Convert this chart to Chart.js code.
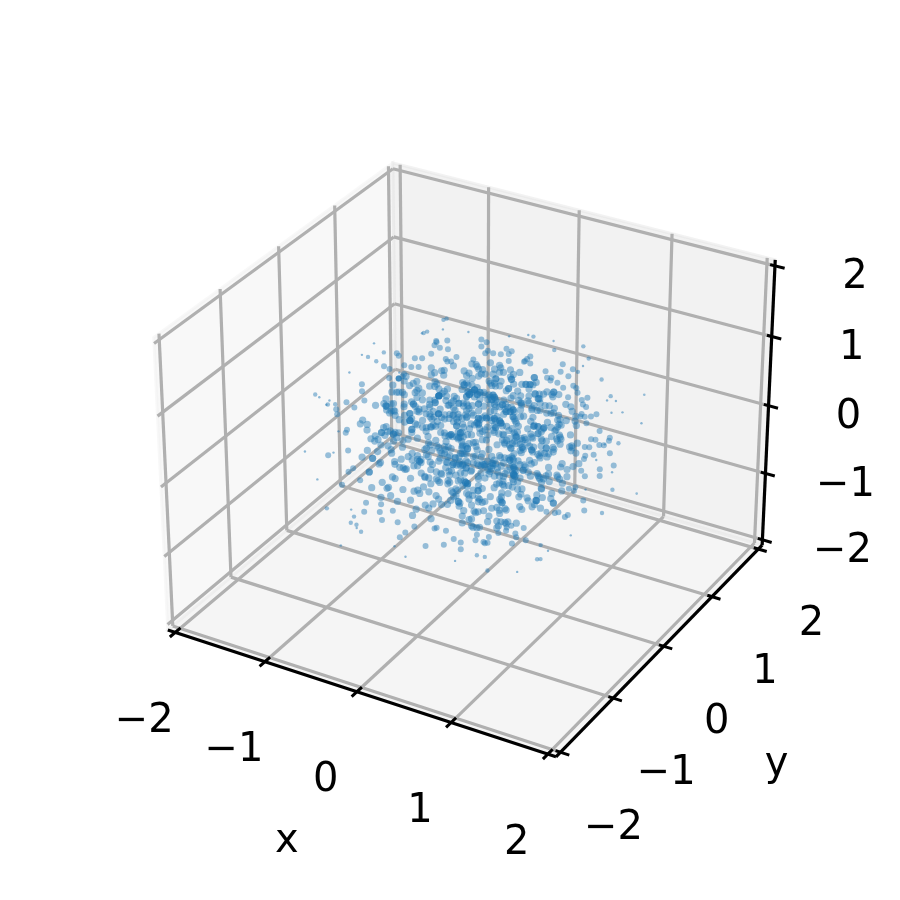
<!DOCTYPE html>
<html><head><meta charset="utf-8">
<script src="https://cdn.jsdelivr.net/npm/chart.js@4"></script>
<style>html,body{margin:0;padding:0;background:#fff}canvas{display:block}</style>
</head><body><canvas id="c" width="900" height="900"></canvas>
<script>
const tickValues=[-2,-1,0,1,2];
const tickLabels=["\u22122","\u22121","0","1","2"];
const scatterX=[
.3,-.5,.1,.8,-.2,-.9,.4,0,-.6,.2,1.1,-.3,.6,-.1,-.7,.5,.2,-1,.3,-.4,.9,0,-.2,.7,-.5,.1,-.8,.4,-.1,.6,-1.2,.2,-.3,.5,.1,-.6,.8,-.2,.3,-.9,
-.1,.4,-.7,.2,.6,-.3,1,-.5,.1,0,.7,-.8,.3,-.2,.5,-.4,.1,1.2,-.6,.2,-.1,.9,-.3,.4,-1.1,.6,0,-.5,.2,.3,-.7,.8,-.1,.5,-.2,-.9,.1,.4,-.4,.7,
.2,-.6,0,.5,-1,.3,.9,-.2,-.4,.1,.6,-.8,.2,-.1,1.3,-.5,.4,-.3,.7,0,-.6,.1,.8,-.2,.3,-.9,.5,-.1,.2,-.7,1,-.4,.6,.1,-.3,.4,-1.3,.2,-.5,.9,
-.2,.3,.7,-.6,.1,-.1,.5,-.8,.4,0,-.3,1.1,-.7,.2,.6,-.4,.3,-.1,.8,-1,.1,-.2,.5,-.5,.9,.2,-.6,.4,0,-.3,.7,-.9,.1,.3,-.1,.6,-.4,1.2,-.2,-.7,
.5,.1,-.8,.2,.4,-.3,0,.9,-.5,.7,-.1,.3,-1.1,.6,-.2,.1,.8,-.6,.4,-.4,.2,-.1,1,-.9,.5,.3,-.7,.1,-.3,.6,0,-.5,.8,-.2,.4,-1.2,.2,.7,-.1,-.4,
.1,.9,-.6,.3,-.2,.5,-.8,.2,-.1,1.1,-.5,.4,.6,-.3,0,-.9,.7,.1,-.4,.3,-.7,1,.2,-.2,.5,-.6,-.1,.8,-1,.4,.3,-.3,.1,.6,-.5,.2,-.8,.9,0,-.2,
.4,-.1,-.7,.6,.2,-.4,1.3,-.3,.1,-.6,.5,.8,-.9,0,.3,-.2,.7,-.5,.1,-1.1,.4,.2,-.1,.6,-.8,.3,-.3,.9,-.4,.1,.5,-.7,0,1,-.2,.2,-.6,.4,-.1,.7,
-.5,.3,.1,-.9,.8,-.2,.4,-.3,.6,.2,-1.3,.5,-.1,.1,-.7,.3,.9,-.4,0,-.6,1.2,-.2,.2,.7,-.5,.4,-.8,.1,-.1,.6,-.3,.3,-1,.8,.5,-.2,.1,-.6,.4,-.4,
.7,0,-.9,.2,-.1,.5,-.5,1.1,.3,-.7,.1,.6,-.3,-.2,.9,-.8,.4,.2,-1.2,.5,-.1,.3,-.4,.7,-.6,.1,1,0,-.2,.4,-.9,.6,-.3,.2,-.5,.8,.1,-.1,-.7,.3,
-.4,.5,.2,-.8,.9,-.1,.3,-.6,.1,.7,-.2,-1,.4,.6,-.5,0,.2,1.3,-.3,-.7,.5,.1,-.9,.3,-.2,.8,-.4,.6,-.1,.2,-1.1,.4,.7,-.6,.1,-.3,1,-.5,.2,.3,
.6,-.2,-.8,.1,.4,-.5,.9,-.1,-.3,.2,-.7,.5,1.2,-.4,0,.3,-.9,.7,-.2,.1,.6,-.6,.4,-1,.2,-.1,.8,-.3,.5,-.5,.1,.3,-.7,1.1,-.2,.4,-.4,.9,-.8,.6,
.2,-.3,.1,-1.3,.5,.7,-.1,-.6,.3,.4,-.9,.2,-.2,.8,-.4,.1,1,-.7,.6,-.5,0,.3,-.1,.5,-.8,.9,.2,-.3,-1.1,.4,.1,.7,-.6,-.2,.6,.3,-.5,.1,1.2,-.4,
-.1,.8,-.7,.2,.5,-.3,.4,-.9,.1,.6,-.2,1.1,-.5,.3,-.6,.7,0,-1,.2,-.4,.9,-.1,.5,-.8,.1,.4,-.3,.6,-.7,.2,1.3,-.2,.3,-.5,.8,-.1,-.9,.4,.1,-.6,
.5,.2,-.4,.7,-1.2,.1,.3,-.2,.9,-.7,.6,-.1,.4,-.5,.2,1,-.3,-.8,.5,.1,-.6,.3,.7,-.2,-1,.8,.2,-.4,.1,.6,-.9,.3,-.1,.5,-.5,1.1,-.3,.4,-.7,.2,
-.2,.6,.1,-.5,.3,.9,-.8,.4,-.1,-.3,.7,.2,-1.1,.5,-.6,.1,1.2,-.4,.3,-.2,.8,-.7,.6,0,-.9,.4,.2,-.5,.1,.7,-.3,1,-.1,.5,-.8,.3,.6,-.4,-.2,.2,
.4,-.7,.9,.1,-.3,.5,-1.3,.2,-.1,.6,-.5,.8,.3,-.9,.1,.7,-.2,.4,-.6,1.1,.2,-.4,0,.5,-.8,.3,-.1,.9,-.5,.1,.6,-1,.4,-.3,.7,.2,-.7,.1,.8,-.2,
-.6,.3,.5,-.1,-.9,.7,.2,-.4,1,.1,-.3,.6,-.7,.4,-.2,.8,-1.2,.3,.1,-.5,.9,-.1,.2,-.6,.5,.4,-.8,.7,-.3,.1,1.1,-.4,.2,-.2,.6,-.9,.3,.5,-.5,.1,
.7,-.1,-.3,.4,-1,.2,.8,-.6,.3,.1,-.4,.9,-.2,.5,-.7,1.2,.6,-.5,.1,-.9,.3,.2,-.1,.4,-.8,.7,-.3,.5,-1.1,.1,.6,-.2,.8,-.4,.3,-.6,1,.2,-.1,-.7,
.4,.1,-.5,.8,-.2,.3,-.9,.6,.2,-.4,1.3,-.7,.1,-.1,.5,-.3,.9,-.6,.4,.2,-1,.7,-.2,.3,.1,-.8,.6,-.5,1.1,-.1,.4,-.3,.2,-.7,.5,.9,-.4,.1,-1.2,.3,
-.3,.7,.1,-.6,.4,.2,-.9,1,-.1,.5,-.5,.3,.8,-.8,.2,-.2,.6,-.4,1.2,.1,-.7,.4,-.1,.3,.9,-.3,-1.1,.5,.2,-.6,.7,.1,-.4,.8,-.2,.3,-.5,.6,-.9,.4,
.2,-.1,.9,-.7,.3,.5,-.3,-1,.6,.1,-.5,.8,-.2,.4,-.8,1.1,.2,-.6,.3,.7,-.4,.1,-.9,.5,-.1,1.3,-.3,.2,-.7,.6,.4,-.5,.1,.8,-1.2,.3,-.2,.5,.9,-.6,
-.4,.6,-.1,.3,-.8,.2,1,-.5,.7,.1,-.3,-.9,.4,.5,-.2,.8,-.6,.1,1.2,-.7,.3,-.1,.6,-.4,.2,-1.1,.9,-.5,.4,.1,-.3,.7,-.8,.2,.5,-.2,1,-.6,.3,-.1,
.8,-.4,.2,.5,-1,.1,-.6,.9,-.2,.3,.7,-.7,.4,-.3,.1,1.1,-.9,.6,-.1,.2,-.5,.4,.8,-.8,.3,-.2,.1,-1.3,.7,.5,-.4,.2,.6,-.6,1,-.1,.3,-.3,.9,-.7,
.1,.5,-.9,.4,-.2,.7,-.5,.2,1.2,-.6,.3,-.1,.8,-.4,.6,-1.1,.1,.9,-.3,.2,-.7,.5,.4,-.8,-.1,1,-.2,.6,.3,-.5,.1,-.9,.7,.2,-.4,.8,-.6,.5,-.3,.4,
-.7,.2,.6,-.1,.9,-.5,.3,.1,-1,.8,-.3,.4,-.6,1.1,.2,-.2,.5,-.8,.7,.1,-.4,.3,-1.2,.6,-.1,.9,-.7,.2,.4,-.5,1,.3,-.9,.1,-.2,.7,-.3,.5,.8,-.6];
const scatterY=[
-.2,.6,.1,-.7,.4,.3,-.9,.5,-.1,.8,-.4,.2,-1,.3,.6,-.3,.1,.7,-.5,.9,.2,-.6,.4,-.1,1.1,-.8,.3,0,-.4,.5,.7,-.2,.1,-.9,.6,.4,-.3,1,-.6,.2,
.5,-.1,.8,-.5,.3,-.7,.2,.9,-.4,.6,.1,-.2,-1.1,.4,.7,-.3,.5,-.8,.2,.1,-.6,.3,.9,-.1,.4,-.5,1.2,.6,-.9,.2,-.3,.7,.1,-.7,.5,.3,-.4,.8,-1,.1,
.6,-.2,.4,-.6,.9,.2,-.8,.5,.3,-.1,1,-.4,.7,.1,-.5,.2,-.9,.6,-.3,.8,.4,-1.2,.1,.5,-.7,.3,-.2,.9,-.5,.6,.1,-.4,.2,-.8,.7,.4,-.1,.3,1.1,-.6,
.5,-.3,.2,.8,-.9,.6,-.2,.1,-.5,.4,1,-.7,.3,.1,-.4,.9,-.1,.7,-.6,.2,.5,-1,.3,-.3,.6,.4,-.8,.1,-.2,.7,.2,.5,-.5,-.9,1.2,-.1,.4,-.4,.3,.8,
-.6,.1,.3,-.7,.9,.5,-.2,-.3,.6,.2,-.8,.4,.1,-1.1,.7,-.5,.3,-.1,.5,.8,-.4,1,.2,-.6,-.2,.6,.1,-.9,.4,.3,-.7,.5,.2,-.3,.9,.1,-.5,.7,-1.2,.4,
.3,-.8,.6,.1,-.4,.2,.7,-.6,1.1,-.1,.4,.5,-.9,.2,.3,-.2,-.5,.8,.1,-.7,.6,.4,-.3,.9,-1,.2,.5,-.1,-.6,.7,.1,.3,-.4,.8,-.8,.2,-.2,.4,.6,-.5,
1,-.3,.2,-.7,.5,.1,.4,-1.1,.7,-.1,.3,-.6,.9,.2,-.4,.6,-.9,.1,.5,-.2,.8,-.5,.3,.1,-.8,.4,1.2,-.3,.7,-.6,.2,-.1,.5,.3,-1,.6,.9,-.4,.1,-.7,
.2,.5,-.3,.8,-.1,.4,-.6,.1,-.9,.7,.3,-.5,.2,1,-.2,.6,-.8,.4,-.4,.1,.5,.9,-.7,.3,-1.1,.2,-.1,.6,-.3,.4,.8,-.5,.1,-.6,.7,.3,-.2,-1,.5,.2,
-.4,.9,.1,-.8,.6,.3,-.1,.2,.7,-.5,-.3,1.1,.4,-.9,.1,.5,-.6,.2,.8,-.2,.3,-.7,.6,.1,-1.2,.4,-.4,.9,.2,-.1,.5,-.5,.7,.3,-.8,.1,1,-.3,.6,-.6,
.1,-.1,.4,.7,-.9,.2,.5,-.4,.3,-.7,.8,.1,-.2,.6,-1,.4,.2,-.5,.9,-.3,.1,.7,-.6,.3,.5,-.8,.2,1.2,-.1,-.4,.6,.1,-.9,.4,-.2,.3,-.5,.8,.2,-.7,
.6,.3,-.3,.1,-1.1,.5,.9,-.6,.2,-.1,.7,.4,-.8,.1,-.4,1,-.2,.3,-.7,.6,.2,-.5,.5,-.9,.1,.8,-.3,.4,.2,-.6,.7,-.1,-1.2,.3,.5,.1,-.4,.9,-.2,.6,
-.5,.2,.8,-.1,.4,-.7,.3,.6,-.3,.1,-.9,.5,1.1,-.6,.2,.4,-.2,.7,-.8,.1,.3,-.4,.9,-.1,-1,.6,.2,-.5,.5,.3,-.7,.8,.1,-.3,.4,-.6,1,.2,-.9,.7,
.3,-.4,.1,.6,-.8,.5,-.2,.2,.9,-.1,.4,-.7,.3,-.5,1.2,.1,-.3,.7,-.9,.2,.6,-.6,.4,.1,-.2,.8,-1.1,.5,.3,-.4,.2,-.1,.7,-.8,.6,.1,.4,-.5,.3,.9,
-.6,.1,.5,-.2,1,.3,-.7,.4,-.4,.2,.8,-.1,-.9,.6,.1,-.5,.3,.7,-.3,.2,-1.2,.5,.9,-.6,.1,.4,-.2,.3,-.8,.6,1.1,-.4,.2,-.1,.7,.5,-.7,.1,-.3,.4,
.2,-.9,.6,.3,-.5,.1,.8,-.2,.4,-1,.7,.1,-.6,.5,-.1,.3,-.8,.9,.2,-.4,.6,.1,-.3,1.2,-.7,.4,.2,-.5,.3,-.1,.8,-.9,.5,.1,-.2,.6,.3,-1.1,.7,-.4,
.5,.1,-.7,.2,.9,-.3,.4,-.6,.1,.7,-.1,-.8,.3,.5,-.4,1,.2,-.2,.6,-.9,.4,.1,-.5,.8,.3,-.7,.6,-.1,.2,-1.2,.9,-.3,.4,.1,-.6,.5,.2,-.4,.7,-.8,
-.1,.3,.8,-.5,.2,-.9,.6,.1,-.2,.4,1.1,-.7,.3,-.3,.5,.2,-.6,.9,-.1,.7,-1,.1,.4,-.4,.3,.6,-.8,.2,.5,-.5,.1,1,-.2,.7,-.9,.3,-.6,.4,.1,.8,
-.3,.6,.2,-.1,.5,-.7,.9,.3,-.4,.1,-1.1,.8,-.5,.4,.2,-.2,.7,-.6,.1,.3,-.9,.5,1.2,-.3,.6,.2,-.8,.4,-.1,.7,.1,-.5,.3,-.7,.9,.2,-.4,.6,-1,.5,
.1,-.2,.4,.8,-.6,.3,.2,-.9,.7,-.1,.5,-.4,1,.1,-.7,.3,-.3,.6,.4,-1.2,.2,.9,-.5,.1,-.1,.7,-.8,.5,.2,.3,-.6,1.1,-.2,.4,-.4,.1,.8,-.9,.6,-.3,
.7,.1,-.5,.3,-1,.4,.2,-.1,.9,-.7,.6,-.3,.1,.5,-.8,.2,.4,-.4,1.2,-.6,.3,.1,-.2,.8,-.9,.5,-.1,.7,.2,-.5,.4,-1.1,.6,.3,-.3,.1,.9,-.7,.2,-.2,
-.4,.5,.3,-.8,.1,.7,-.2,.6,-.6,.2,.4,1,-.9,.1,-.1,.5,-.5,.3,.8,-.3,.2,-.7,.6,.1,-1.2,.9,.4,-.4,.3,.7,-.1,-.6,.2,.5,-.8,1.1,.1,-.2,.4,-.5,
.3,.9,-.1,-.6,.5,.1,-.9,.4,.7,-.3,.2,-.5,.8,.1,-1,.6,.3,-.2,.4,-.7,1.2,.2,-.4,.5,.1,-.8,.7,-.1,.3,.6,-.6,.2,-.3,.9,.4,-1.1,.1,.5,-.5,.8,
-.7,.2,.6,.1,-.3,.4,-.8,.9,.3,-.2,.5,-.5,.1,.7,-.9,.2,1,-.4,.6,-.1,.3,-.6,.4,.8,-1.2,.1,.5,-.3,.2,.7,-.7,.4,.1,-.1,.9,-.5,.3,-.8,.6,.2,
.4,-.6,.1,.5,-.2,.8,-1.1,.3,.2,-.4,.7,.1,-.9,.6,-.1,.3,-.5,1.1,.2,-.7,.4,.5,-.3,.1,-.8,.9,.2,-.2,.6,-1,.3,.7,-.4,.1,.5,-.6,.2,.8,-.1,-.3,
.5,-.5,.2,.9,-.7,.1,.3,-.1,.6,-1,.4,.2,-.4,.8,.1,-.6,.5,-.2,.3,.7,-.9,1.2,.1,-.3,.4,-.5,.6,.2,-.8,.1,-.1,.9,.3,-.7,.5,.4,-1.1,.2,-.2,.6];
const scatterZ=[
.4,-.3,.7,.1,-.6,.2,.5,-.9,.3,-.1,.6,-.5,.2,.9,-.2,-.7,.4,.1,-.4,.3,.8,-.1,-1,.5,.2,-.6,.1,.7,-.3,-.8,.4,.6,-.2,.1,1,-.5,.3,-.7,.2,.5,
-.1,.8,-.4,.3,.1,-.9,.6,-.2,.5,.2,-.7,.4,.1,-.3,1.1,-.6,.2,.4,-.5,.7,-.1,.3,-1.1,.5,.1,-.4,.8,-.2,.6,.2,-.8,.3,.9,-.5,.1,-.1,.4,-.7,.6,.2,
-.3,.5,.1,-1,.7,-.6,.3,.2,-.2,.9,-.4,.1,.5,-.8,.4,.6,-.1,.3,.2,-.5,1,-.3,.7,-.9,.1,.4,-.6,.2,.8,-.2,.3,.5,-.7,.1,-.4,.6,.2,-.1,-1.2,.4,
.7,-.5,.1,-.3,.9,.3,-.8,.4,.2,-.6,.1,.5,-.2,1.1,-.4,.7,-.1,-.9,.3,.6,.2,-.5,.4,.1,-1,.8,-.3,.5,-.7,.2,.6,-.1,.1,.3,-.4,.9,-.6,.2,.5,-.2,
-.8,.4,.1,.7,-.5,.3,-.1,1.2,-.3,.2,.6,-.9,.1,.4,-.6,.5,-.2,.3,.8,-.7,.1,.2,-.4,-1.1,.6,.9,-.1,.3,.5,-.5,.2,.7,-.8,.4,.1,-.3,.6,-.2,.3,-.6,
.1,.5,.9,-.4,.2,-.7,.3,.6,-.1,-.5,.8,.1,.4,-1,.2,-.3,.7,-.6,.5,.3,-.2,.1,-.9,.4,.6,-.4,1,-.1,.2,-.8,.5,.3,-.5,.7,.1,-.2,.4,.9,-1.1,.2,
-.2,.6,-.7,.3,.1,.5,-.4,.8,-.1,.2,-.9,.4,.6,-.3,.7,.1,-.5,.3,1.1,-.8,.2,-.6,.5,.1,-.1,.9,-.3,.4,-1,.2,.7,-.4,.3,.6,-.2,.1,-.7,.5,.8,-.5,
.3,-.1,.5,-.6,.2,.9,-.8,.4,.1,-.3,.6,-.2,.7,-.9,.3,1,-.5,.1,.4,-.7,.2,.5,-.1,.8,-.4,.3,-1.2,.6,.1,-.2,.4,-.6,.9,.2,-.3,.5,.7,-.8,.1,-.1,
.6,-.4,.2,.3,-.7,.1,1,-.5,.4,-.2,.8,.1,-.9,.5,.3,-.1,.6,-.6,.2,.4,-.3,.7,-1.1,.1,.5,-.4,.9,.2,-.8,.3,.6,-.2,.1,.4,-.5,1.2,-.1,.3,-.7,.2,
.5,-.9,.3,.1,-.2,.6,-.5,.2,.8,-.4,-.1,.7,.3,-.6,.1,.4,-1,.5,-.3,.9,.2,-.8,.6,.1,-.1,.3,-.4,.7,-.7,.5,.2,1.1,-.2,.4,-.6,.1,.3,-.3,.8,-.9,
.2,.6,-.1,-.5,.4,.1,.7,-.3,.9,-.8,.3,.2,-.6,.5,-.1,.4,1,-.7,.1,-.4,.6,.3,-.2,.8,.2,-1.1,.5,-.5,.1,.7,-.3,.4,-.9,.2,.6,-.1,.3,-.6,.5,.1,
-.7,.3,.4,-.2,.1,.9,-.5,.6,.2,-.4,.7,-.1,-.8,.3,.5,.1,-.3,1.1,-.6,.4,.2,-.9,.7,.1,-.2,.5,.3,-.7,.6,-.4,.1,.8,-.5,.2,-1,.4,-.1,.6,.3,-.3,
.1,-.6,.8,.4,-.2,.3,-.9,.5,.7,-.4,.1,.2,-.1,.6,-.7,.3,.9,-1,.5,.1,-.5,.4,.2,-.3,1.2,-.8,.1,.6,-.1,.3,-.6,.7,.4,-.4,.2,.5,-1.1,.1,.8,-.2,
.3,.7,-.3,.1,-.8,.5,.2,-.5,.9,-.1,.4,-.6,.6,.1,-.2,-.9,.3,.7,-.4,.5,.2,1,-.7,.1,-.3,.4,.6,-.5,.2,-.1,.8,-1.2,.3,.5,-.6,.1,.9,-.2,.4,-.4,
-.5,.2,.6,-.8,.1,.4,-.3,.7,-.1,1.1,.3,-.6,.5,-.9,.2,.1,-.4,.8,-.2,.6,-.7,.3,.4,.1,-1,.5,-.5,.9,.2,-.1,.7,-.3,.3,-.8,.1,.6,-.6,.4,.2,-.2,
.8,-.1,.3,-.4,.5,.1,-.7,.2,.6,-.9,.4,1,-.2,.1,-.5,.3,.7,-.6,.2,-.3,.9,.5,-1.1,.1,.4,-.8,.6,-.1,.3,.2,-.4,.7,-.5,1.2,.1,-.7,.4,-.2,.5,.3,
.2,-.5,.4,.7,-.1,-.9,.3,.6,-.3,.1,.5,-.6,.8,.2,-1,.4,-.2,.1,.9,-.7,.3,.6,-.4,.2,-.1,.5,-.8,1.1,.3,-.3,.1,.7,-.6,.4,.2,-.9,.5,-.2,.6,.1,
-.4,.9,.1,-.6,.3,.5,-.2,.7,-.8,.2,.4,-.1,-1.2,.6,.1,.3,-.5,.8,-.3,.5,.2,-.7,.4,1,-.1,.1,-.9,.6,.3,-.4,.7,-.2,.2,.5,-.6,.1,.9,-.8,.3,-.3,
.6,.2,-.7,.1,.8,-.4,.3,-.1,.5,-1,.2,.6,-.5,.4,.9,-.2,.1,-.8,.7,.3,-.3,1.1,-.6,.2,.4,-.1,.5,-.9,.1,.6,-.4,.3,.8,-.7,.2,-.2,.5,.1,-1.1,.4,
-.2,.4,.1,.9,-.5,.3,-.8,.6,.2,-.1,.7,-.3,.5,1,-.6,.1,.3,-.9,.4,-.4,.2,.8,-.7,.1,.6,-.2,-1.2,.5,.3,-.5,.9,.1,-.1,.4,-.6,.7,.2,-.3,.5,-.8,
.3,-.6,.7,.1,-.2,.5,.4,-.9,.2,.8,-.4,.1,-.1,.6,-.7,.3,1.2,-.5,.2,.4,-.3,.9,-1,.1,.5,-.8,.7,-.2,.3,.6,-.6,.1,.4,-.1,.8,-.4,.2,-.9,.5,.1,
.1,.5,-.4,.3,-1.1,.6,-.1,.2,.9,-.7,.4,.3,-.5,.1,.7,-.2,.6,-.9,.2,.5,-.3,1,.1,-.6,.4,-.8,.3,.7,-.1,.2,-.5,.9,-1.2,.4,.1,.6,-.3,.2,-.7,.5,
-.3,.8,.2,-.5,.6,.1,.4,-.7,.3,-.1,1.1,-.9,.5,.2,-.4,.7,.1,-.6,.3,.9,-.2,.4,-1,.6,.1,-.8,.5,.3,-.3,.2,.8,-.5,.1,.7,-.1,-.9,.4,.6,-.2,.3,
.7,-.2,.1,.4,-.8,.5,.9,-.3,.2,.1,-.6,.3,.6,-1.1,.4,-.1,.8,-.5,.2,.7,-.4,.1,1.2,-.7,.3,.5,-.2,-.9,.6,.1,.4,-.6,.2,.9,-.3,.5,-.1,-.8,.3,.1,
-.1,.4,-.7,.6,.2,-.5,.3,.8,-1,.1,.5,-.2,.9,-.4,.3,.1,.6,-.8,.2,-.3,.7,.4,-.6,1.1,.1,-.1,-.9,.5,.3,.2,-.5,.6,-.2,.4,-.7,.1,.8,.3,-.4,-1.2];
const outlierX=[-.86,-.87,-.64,-.53,-1.22,-1.3,-1.08,-1.2,-1.07,-1.14,.11,.91,1.16,.96,1.18,1.28,.86,.98,.79,.95,.92,-.71,-.24,.18,-.42,-.83,.91,.86,1,.6,.24,-.08,-.65,-1.01,-1.08];
const outlierY=[-.3,-.5,.2,.4,-.7,-.4,-.8,-1,-1,-.6,.9,1,.7,1,.8,1,.6,1,-.5,-.2,.3,-.9,-.8,-.6,-.7,-.8,.6,.9,.8,.5,.3,.1,-.2,-.5,-.6];
const outlierZ=[1.33,1.29,1.24,1.21,.69,.42,.7,.12,-.23,-.14,1.05,.34,.62,.18,.4,.15,1.07,-.68,-1.17,-1.01,-1.15,-.86,-1.16,-1.19,-1.15,-.71,-.69,-.48,-.13,1.39,1.45,1.52,.93,.99,.19];
const limit=2+4/48;
const elev=30*Math.PI/180,azim=-60*Math.PI/180,dist=10;
const nrm=Math.hypot(4,4,3),bs=1.8294640721620434*25/24/nrm;
const box=[4*bs,4*bs,3*bs];
const R=box.map(v=>v/2);
const w=[Math.cos(elev)*Math.cos(azim),Math.cos(elev)*Math.sin(azim),Math.sin(elev)];
const eye=[R[0]+dist*w[0],R[1]+dist*w[1],R[2]+dist*w[2]];
const cross=(a,b)=>[a[1]*b[2]-a[2]*b[1],a[2]*b[0]-a[0]*b[2],a[0]*b[1]-a[1]*b[0]];
const dot=(a,b)=>a[0]*b[0]+a[1]*b[1]+a[2]*b[2];
let uu=cross([0,0,1],w);const ul=Math.hypot(...uu);uu=uu.map(v=>v/ul);
const vv=cross(w,uu);
function proj(x,y,z){
  const p=[(x+limit)/(2*limit)*box[0]-eye[0],(y+limit)/(2*limit)*box[1]-eye[1],(z+limit)/(2*limit)*box[2]-eye[2]];
  const d=-dot(w,p);
  return {x:dot(uu,p)/d,y:dot(vv,p)/d};
}
const ppu=693/0.185*1.006;
const xMin=-0.0025-461.25/ppu,yMin=-0.0025-445/ppu;
const L=limit;
function seg(a,b,color,width){
  return {type:'scatter',showLine:true,data:[proj(...a),proj(...b)],borderColor:color,borderWidth:width,pointRadius:0,fill:false,tension:0,borderCapStyle:'butt'};
}
const GRID='#b0b0b0',AX='#000000';
const lines=[];
for(const t of tickValues){
  lines.push(seg([t,-L,-L],[t,L,-L],GRID,3.2),seg([t,L,-L],[t,L,L],GRID,3.2));
  lines.push(seg([-L,t,-L],[L,t,-L],GRID,3.2),seg([-L,t,-L],[-L,t,L],GRID,3.2));
  lines.push(seg([-L,L,t],[L,L,t],GRID,3.2),seg([-L,-L,t],[-L,L,t],GRID,3.2));
}
lines.unshift(seg([-L,-L,-L],[L,-L,-L],AX,3.2),seg([L,-L,-L],[L,L,-L],AX,3.2),seg([L,L,-L],[L,L,L],AX,3.2));
for(const t of tickValues){
  lines.unshift(seg([t,-L-.09,-L],[t,-L+.09,-L],AX,3));
  lines.unshift(seg([L-.05,t,-L],[L+.09,t,-L],AX,3));
  lines.unshift(seg([L-.05,L,t],[L+.1,L,t],AX,3));
}
const panes=[
 {c:'rgba(242,242,242,0.5)',q:[[-L,-L,-L],[-L,L,-L],[-L,L,L],[-L,-L,L]]},
 {c:'rgba(230,230,230,0.5)',q:[[-L,L,-L],[L,L,-L],[L,L,L],[-L,L,L]]},
 {c:'rgba(236,236,236,0.5)',q:[[-L,-L,-L],[L,-L,-L],[L,L,-L],[-L,L,-L]]}
];
const texts=[
 ...tickLabels.map((s,i)=>({s,a:[tickValues[i],-L,-L],dx:-31,dy:89})),
 ...tickLabels.map((s,i)=>({s,a:[L,tickValues[i],-L],dx:53,dy:76})),
 ...tickLabels.map((s,i)=>({s,a:[L,L,tickValues[i]],dx:80,dy:12})),
 {s:'x',a:[0,-L,-L],dx:-70,dy:150},
 {s:'y',a:[L,0,-L],dx:113,dy:118}
];
const artPlugin={id:'art',
 beforeDatasetsDraw(ch){
  const c=ch.ctx,sx=ch.scales.x,sy=ch.scales.y;
  for(const p of panes){
   c.beginPath();
   p.q.forEach((q,i)=>{const m=proj(...q);const X=sx.getPixelForValue(m.x),Y=sy.getPixelForValue(m.y);i?c.lineTo(X,Y):c.moveTo(X,Y);});
   c.closePath();c.fillStyle=p.c;c.strokeStyle=p.c;c.lineWidth=3;c.fill();c.stroke();
  }
 },
 afterDatasetsDraw(ch){
  const c=ch.ctx,sx=ch.scales.x,sy=ch.scales.y;
  c.save();c.fillStyle='#000';c.font='40px "DejaVu Sans"';c.textAlign='center';c.textBaseline='middle';
  for(const t of texts){const m=proj(...t.a);c.fillText(t.s,sx.getPixelForValue(m.x)+t.dx,sy.getPixelForValue(m.y)+t.dy);}
  c.restore();
 }
};
const count=Math.min(scatterX.length,scatterY.length,scatterZ.length);
const points=[];
for(let i=0;i<count;i++)points.push(proj(scatterX[i],scatterY[i],scatterZ[i]));
const outliers=outlierX.map((x,i)=>proj(x,outlierY[i],outlierZ[i]));
const centre=proj(0,0,0);
function dotRadius(ctx){
  if(!ctx.raw)return 1.5;
  const d=Math.hypot((ctx.raw.x-centre.x)*ppu/128,(ctx.raw.y-centre.y)*ppu/95);
  return d<0.9?3.6:d<1.15?3:d<1.4?2.2:1.3;
}
new Chart(document.getElementById('c'),{
 type:'scatter',
 data:{datasets:[
  {data:points,pointRadius:dotRadius,pointBorderWidth:0,backgroundColor:'rgba(31,119,180,0.45)',showLine:false},
  {data:outliers,pointRadius:1.2,pointBorderWidth:0,backgroundColor:'rgba(31,119,180,0.5)',showLine:false},
  ...lines]},
 options:{responsive:false,animation:false,devicePixelRatio:1,clip:false,
  layout:{padding:0},
  plugins:{legend:{display:false},tooltip:{enabled:false},title:{display:false}},
  scales:{x:{type:'linear',display:false,min:xMin,max:xMin+900/ppu},y:{type:'linear',display:false,min:yMin,max:yMin+900/ppu}}
 },
 plugins:[artPlugin]
});
</script></body></html>
